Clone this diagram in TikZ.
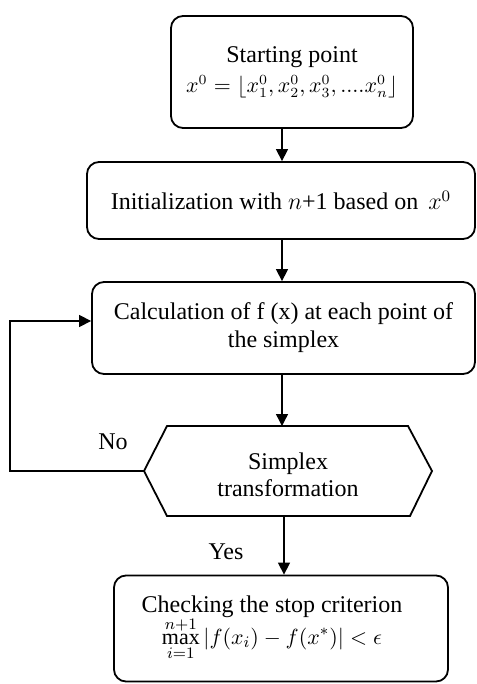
\documentclass[tikz,border=0pt]{standalone}
\usepackage{fontspec}
\setmainfont{Liberation Serif}
\usetikzlibrary{arrows.meta}
\begin{document}
\begin{tikzpicture}[x=0.5pt,y=-0.5pt,
  box/.style={draw,line width=0.9pt,rounded corners=6pt,align=center,inner sep=0pt,font=\fontsize{12}{14}\selectfont},
  txt/.style={align=center,inner sep=0pt,font=\fontsize{12}{14}\selectfont},
  arr/.style={line width=0.7pt,-{Triangle[length=6pt,width=6pt]}},
  hexline/.style={line width=0.9pt,line join=miter}]
\useasboundingbox (0,0) rectangle (476,684);
% axis of the vertical connectors
\coordinate (ax) at (282,0);
% boxes
\node[box,minimum width=121pt,minimum height=56pt] (b1) at (292,72)
  {Starting point\\[1pt] {\fontsize{10.5}{12}\selectfont$x^0=\left\lfloor x_1^0, x_2^0, x_3^0, ....x_n^0\right\rfloor$}};
\node[box,minimum width=194pt,minimum height=38.5pt] (b2) at (281,200.5)
  {Initialization with $n$+1 based on \,$x^0$};
\node[box,minimum width=191.5pt,minimum height=46pt] (b3) at (283.5,328)
  {Calculation of f (x) at each point of\\the simplex};
% hexagon
\coordinate (hexL) at (144,471);
\coordinate (hexR) at (432,471);
\coordinate (hexT) at (282,426);
\coordinate (hexB) at (284,516);
\draw[hexline] (hexL) -- (167,426) -- (408,426) -- (hexR) -- (410,516) -- (167,516) -- cycle;
\node[txt] (hx) at (288,475) {Simplex\\[-0.5pt]transformation};
% final box
\node[box,minimum width=167pt,minimum height=53pt] (b4) at (281,628.5) {};
\node[txt] (b4t) at (272,628) {Checking the stop criterion\\[-1pt]
  {\fontsize{11}{13}\selectfont$\displaystyle\max_{i=1}^{n+1}\,\bigl|f(x_i)-f(x^*)\bigr|<\epsilon$}};
% connectors
\draw[arr] (b1.south -| ax) -- (b2.north -| ax);
\draw[arr] (b2.south -| ax) -- (b3.north -| ax);
\draw[arr] (b3.south -| ax) -- (hexT);
\draw[arr] (hexB) -- (b4.north -| hexB);
\coordinate (fb) at (10,471);
\draw[arr] (hexL) -- (fb) |- ([yshift=3.5pt]b3.west);
% labels
\node[txt] (no) at (113,442) {No};
\node[txt] (yes) at (226,552) {Yes};
\end{tikzpicture}
\end{document}
